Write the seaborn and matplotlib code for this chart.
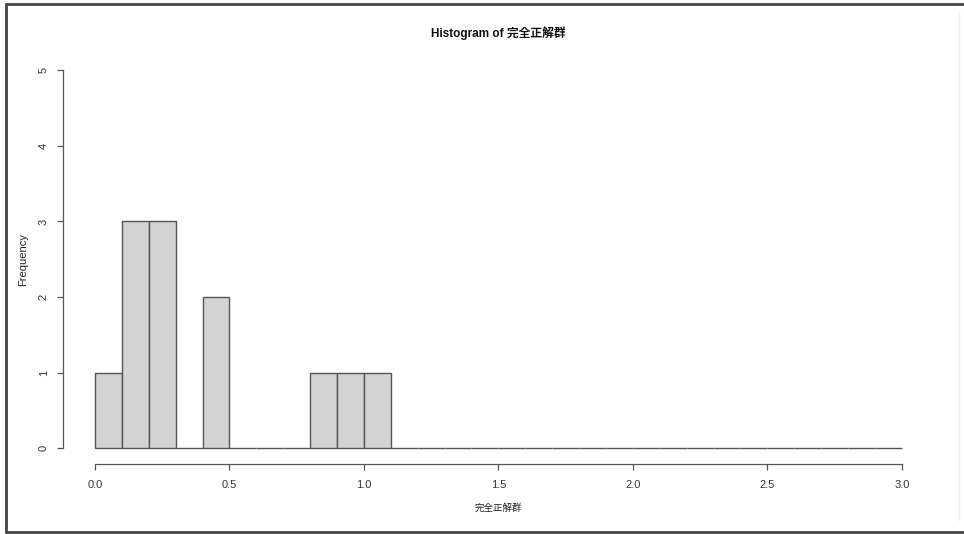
import numpy as np
import pandas as pd
import seaborn as sns
import matplotlib
matplotlib.use("Agg")
import matplotlib.pyplot as plt
from matplotlib.lines import Line2D

# Histogram bins (width 0.1 from 0.0 to 3.0) and their counts
bin_edges = [round(i * 0.1, 1) for i in range(31)]
counts = [1, 3, 3, 0, 2, 0, 0, 0, 1, 1, 1, 0, 0, 0, 0,
          0, 0, 0, 0, 0, 0, 0, 0, 0, 0, 0, 0, 0, 0, 0]
x_ticks = [0.0, 0.5, 1.0, 1.5, 2.0, 2.5, 3.0]
y_ticks = [0, 1, 2, 3, 4, 5]
var_name = "完全正解群"

sns.set_style("white")
plt.rcParams["font.family"] = ["Liberation Sans", "Noto Sans CJK JP"]

df = pd.DataFrame({
    "center": [(a + b) / 2 for a, b in zip(bin_edges[:-1], bin_edges[1:])],
    "count": counts,
})

fig = plt.figure(figsize=(9.64, 5.34), dpi=100)
ax = fig.add_axes([0.065, 0.132, 0.904, 0.765])

sns.histplot(data=df, x="center", weights="count", bins=bin_edges,
             color="#D3D3D3", alpha=1.0, edgecolor="#555555", linewidth=1.0,
             ax=ax)

ax.set_xlim(-0.12, 3.12)
ax.set_ylim(-0.2, 5.2)
ax.set_xticks(x_ticks)
ax.set_xticklabels([f"{v:.1f}" for v in x_ticks])
ax.set_yticks(y_ticks)
ax.set_yticklabels([str(v) for v in y_ticks], rotation=90, va="center")

for side in ("top", "right"):
    ax.spines[side].set_visible(False)
for side in ("left", "bottom"):
    ax.spines[side].set_color("#555555")
    ax.spines[side].set_linewidth(0.9)
ax.spines["bottom"].set_bounds(0, 3)
ax.spines["left"].set_bounds(0, 5)

ax.tick_params(axis="both", direction="out", length=4, width=0.9,
               color="#555555", labelsize=8, labelcolor="#333333",
               bottom=True, left=True)
ax.tick_params(axis="x", pad=8)
ax.tick_params(axis="y", pad=6)

ax.set_xlabel(var_name, fontsize=6.8, color="#222222", labelpad=9)
ax.set_ylabel("Frequency", fontsize=8, color="#222222", labelpad=7.5)
ax.set_title(f"Histogram of {var_name}", fontsize=8.5, fontweight="bold",
             color="#111111", pad=13)

# Frame around the figure
frame_kw = dict(color="#444444", linewidth=2.0, transform=fig.transFigure)
fig.add_artist(Line2D([6 / 964, 6 / 964], [1 - 4 / 534, 1 - 532 / 534], **frame_kw))
fig.add_artist(Line2D([6 / 964, 1.0], [1 - 4 / 534, 1 - 4 / 534], **frame_kw))
fig.add_artist(Line2D([6 / 964, 1.0], [1 - 532 / 534, 1 - 532 / 534], **frame_kw))
fig.add_artist(Line2D([959 / 964, 959 / 964], [1 - 12 / 534, 1 - 520 / 534],
                      color="#EEEEEE", linewidth=1.0, transform=fig.transFigure))

fig.savefig("out.png", dpi=100)
